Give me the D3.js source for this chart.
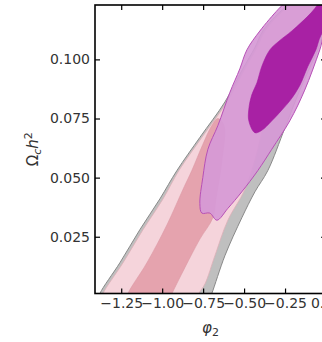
<!DOCTYPE html>
<html>
<head>
<meta charset="utf-8">
<script src="https://cdn.jsdelivr.net/npm/d3@7"></script>
<style>
  body { margin: 0; background: #fff; }
  svg { display: block; }
  .tick text { font-family: "DejaVu Sans", sans-serif; fill: #333; }
</style>
</head>
<body>
<div id="chart"></div>
<script>
var width = 322;
var height = 342;
var margin = { top: 5, left: 95 };
var plotW = 231;
var plotH = 288.5;

// axis ticks
var xTicks = [-1.25, -1.0, -0.75, -0.5, -0.25, 0];
var yTicks = [0.025, 0.05, 0.075, 0.1];
var xDomain = [-1.41, 0.0];
var yDomain = [0.001, 0.123];

// contour outlines, [phi2, omega_c h^2]; points past the frame are clipped
var grayOuter = [
  [-1.392, -0.002], [-1.380, 0.001], [-1.258, 0.014], [-1.136, 0.028], [-1.014, 0.041],
  [-0.910, 0.053], [-0.770, 0.067], [-0.617, 0.082], [-0.508, 0.096], [-0.434, 0.105],
  [-0.386, 0.112], [-0.312, 0.118], [-0.233, 0.123], [-0.160, 0.127],
  [-0.100, 0.132], [0.200, 0.132], [0.200, 0.125],
  [0.053, 0.121], [-0.050, 0.104], [-0.160, 0.087], [-0.251, 0.071],
  [-0.355, 0.053], [-0.434, 0.044], [-0.514, 0.033], [-0.617, 0.017], [-0.697, 0.001],
  [-0.715, -0.002]
];

var pinkOuter = [
  [-1.373, -0.002], [-1.361, 0.001], [-1.239, 0.014], [-1.117, 0.028], [-0.995, 0.041],
  [-0.898, 0.053], [-0.758, 0.067], [-0.605, 0.082], [-0.495, 0.096], [-0.422, 0.105],
  [-0.373, 0.112], [-0.300, 0.118], [-0.221, 0.123], [-0.148, 0.127],
  [-0.090, 0.132], [0.200, 0.132], [0.200, 0.125],
  [0.023, 0.123], [-0.099, 0.116], [-0.300, 0.102], [-0.355, 0.083],
  [-0.416, 0.062], [-0.495, 0.045], [-0.599, 0.032], [-0.678, 0.017], [-0.739, 0.005],
  [-0.776, 0.001], [-0.788, -0.002]
];

var pinkInner = [
  [-1.221, -0.002], [-1.209, 0.001], [-1.093, 0.014], [-0.971, 0.030], [-0.873, 0.045],
  [-0.819, 0.053], [-0.752, 0.064], [-0.697, 0.072], [-0.660, 0.075], [-0.623, 0.072],
  [-0.636, 0.057], [-0.672, 0.041], [-0.691, 0.033], [-0.770, 0.024], [-0.861, 0.012],
  [-0.940, 0.001], [-0.959, -0.002]
];

var purpleOuter = [
  [-0.160, 0.127], [-0.264, 0.123], [-0.294, 0.121], [-0.404, 0.112], [-0.483, 0.104],
  [-0.526, 0.096], [-0.587, 0.086], [-0.660, 0.072], [-0.721, 0.062], [-0.752, 0.050],
  [-0.770, 0.039], [-0.758, 0.035], [-0.709, 0.035], [-0.666, 0.032], [-0.599, 0.037],
  [-0.514, 0.044], [-0.416, 0.053], [-0.331, 0.062], [-0.221, 0.074], [-0.130, 0.087],
  [-0.038, 0.104], [0.023, 0.117], [0.200, 0.120], [0.200, 0.132], [-0.100, 0.132]
];

var purpleInner = [
  [-0.434, 0.069], [-0.471, 0.074], [-0.471, 0.079], [-0.453, 0.085], [-0.422, 0.090],
  [-0.392, 0.097], [-0.343, 0.104], [-0.282, 0.108], [-0.209, 0.112], [-0.087, 0.120],
  [-0.020, 0.126], [0.060, 0.132], [0.200, 0.132], [0.200, 0.110],
  [0.023, 0.115], [-0.032, 0.110], [-0.062, 0.104], [-0.111, 0.097],
  [-0.160, 0.089], [-0.215, 0.083], [-0.264, 0.079], [-0.331, 0.074], [-0.392, 0.070]
];

var svg = d3.select("#chart")
  .append("svg")
  .attr("width", width)
  .attr("height", height);

var xScale = d3.scaleLinear().domain(xDomain).range([0, plotW]);
var yScale = d3.scaleLinear().domain(yDomain).range([plotH, 0]);

svg.append("clipPath")
  .attr("id", "plotClip")
  .append("rect")
  .attr("width", plotW)
  .attr("height", plotH);

var g = svg.append("g")
  .attr("transform", `translate(${margin.left},${margin.top})`);

var area = g.append("g").attr("clip-path", "url(#plotClip)");

var line = d3.line()
  .x((d) => xScale(d[0]))
  .y((d) => yScale(d[1]))
  .curve(d3.curveCatmullRomClosed.alpha(0.5));

// gray
area.append("path").datum(grayOuter)
  .attr("d", line)
  .attr("fill", "#bfbfbf")
  .attr("stroke", "#888")
  .attr("stroke-width", 1);

// pink
area.append("path").datum(pinkOuter)
  .attr("d", line)
  .attr("fill", "#f5d4db")
  .attr("stroke", "#dcb0b8")
  .attr("stroke-width", 0.8);
area.append("path").datum(pinkInner)
  .attr("d", line)
  .attr("fill", "#e5a3ae")
  .attr("stroke", "#dc98a4")
  .attr("stroke-width", 0.6);

// purple
area.append("path").datum(purpleOuter)
  .attr("d", line)
  .attr("fill", "#d699d6")
  .attr("fill-opacity", 0.92)
  .attr("stroke", "#b650b6")
  .attr("stroke-width", 1);
area.append("path").datum(purpleInner)
  .attr("d", line)
  .attr("fill", "#a51aa1")
  .attr("fill-opacity", 0.95)
  .attr("stroke", "#a51aa1")
  .attr("stroke-width", 0.6);

// axes, ticks pointing in
var fmt = (d) => d3.format(".2f")(d).replace("-", "\u2212");

g.append("g")
  .attr("transform", `translate(0,${plotH})`)
  .call(d3.axisBottom(xScale).tickValues(xTicks).tickFormat(fmt)
    .tickSizeInner(-5).tickSizeOuter(0).tickPadding(5))
  .call((s) => s.select(".domain").remove());

g.append("g")
  .call(d3.axisTop(xScale).tickValues(xTicks).tickFormat("")
    .tickSizeInner(-5).tickSizeOuter(0))
  .call((s) => s.select(".domain").remove());

g.append("g")
  .call(d3.axisLeft(yScale).tickValues(yTicks).tickFormat(d3.format(".3f"))
    .tickSizeInner(-5).tickSizeOuter(0).tickPadding(5))
  .call((s) => s.select(".domain").remove());

g.append("g")
  .attr("transform", `translate(${plotW},0)`)
  .call(d3.axisRight(yScale).tickValues(yTicks).tickFormat("")
    .tickSizeInner(-5).tickSizeOuter(0))
  .call((s) => s.select(".domain").remove());

g.selectAll(".tick line").attr("stroke", "#000").attr("stroke-width", 1.2);
g.selectAll(".tick text").style("font-size", "14px");

g.append("rect")
  .attr("width", plotW)
  .attr("height", plotH)
  .attr("fill", "none")
  .attr("stroke", "#000")
  .attr("stroke-width", 1.6);

// axis labels
var xLab = svg.append("text")
  .attr("x", margin.left + plotW / 2)
  .attr("y", 333)
  .style("text-anchor", "middle")
  .style("font-family", "DejaVu Sans, sans-serif")
  .style("font-size", "15px")
  .style("fill", "#333");
xLab.append("tspan").style("font-style", "italic").text("\u03C6");
xLab.append("tspan").attr("dy", 3).style("font-size", "11px").text("2");

var yLab = svg.append("text")
  .attr("transform", `translate(38,${margin.top + plotH / 2}) rotate(-90)`)
  .style("text-anchor", "middle")
  .style("font-family", "DejaVu Sans, sans-serif")
  .style("font-size", "15px")
  .style("fill", "#333");
yLab.append("tspan").text("\u03A9");
yLab.append("tspan").attr("dy", 3).style("font-size", "11px").style("font-style", "italic").text("c");
yLab.append("tspan").attr("dy", -3).style("font-style", "italic").text("h");
yLab.append("tspan").attr("dy", -6).style("font-size", "11px").text("2");
</script>
</body>
</html>
